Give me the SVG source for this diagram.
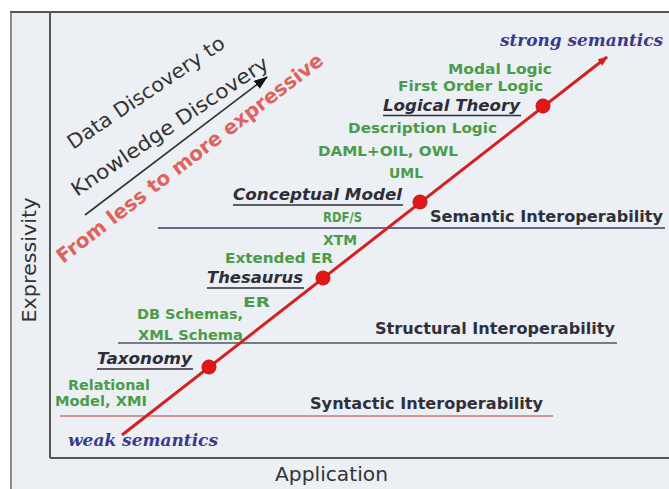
<svg xmlns="http://www.w3.org/2000/svg" width="669" height="489" viewBox="0 0 669 489">
  <style>
    .lbl { font-family: "DejaVu Sans", "Liberation Sans", sans-serif; font-weight: bold; }
    .green { fill: #4a9c4a; font-size: 14px; }
    .level { fill: #2e2e38; font-size: 15px; font-style: italic; }
    .interop { fill: #30303a; font-size: 15px; }
    .sem { font-family: "DejaVu Serif", "Liberation Serif", serif; font-weight: bold; font-style: italic; fill: #3a3a8c; font-size: 17px; }
    .axis { font-family: "DejaVu Sans", "Liberation Sans", sans-serif; fill: #333; font-size: 20px; }
    .uline { stroke: #2e2e38; stroke-width: 1.5; }
    .dot { fill: #e01818; stroke: #c01010; stroke-width: 1; }
  </style>
  <defs>
    <marker id="blackHead" markerUnits="userSpaceOnUse" markerWidth="14" markerHeight="10" refX="13" refY="5" orient="auto">
      <path d="M0,0 L14,5 L0,10 z" fill="#111"/>
    </marker>
    <marker id="redHead" markerUnits="userSpaceOnUse" markerWidth="10" markerHeight="8" refX="9" refY="4" orient="auto">
      <path d="M0,0 L10,4 L0,8 z" fill="#d42020"/>
    </marker>
  </defs>

  <!-- canvas and chart frame -->
  <rect x="0" y="0" width="669" height="489" fill="#ffffff"/>
  <rect x="10" y="12" width="659" height="477" fill="#eceff4"/>
  <line x1="10" y1="12" x2="669" y2="12" stroke="#555" stroke-width="2"/>
  <line x1="11" y1="12" x2="11" y2="489" stroke="#6a6a6a" stroke-width="1.5"/>
  <line x1="50" y1="12" x2="50" y2="458" stroke="#555" stroke-width="2"/>
  <line x1="50" y1="458" x2="669" y2="458" stroke="#555" stroke-width="2"/>

  <!-- axis titles -->
  <text class="axis" transform="translate(36,260) rotate(-90)" text-anchor="middle" textLength="125" lengthAdjust="spacingAndGlyphs">Expressivity</text>
  <text class="axis" x="275" y="481" textLength="113" lengthAdjust="spacingAndGlyphs">Application</text>

  <!-- interoperability levels -->
  <g id="levels">
    <line x1="158" y1="228" x2="665" y2="228" stroke="#3c3c66" stroke-width="1.5"/>
    <line x1="118" y1="343" x2="617" y2="343" stroke="#55555f" stroke-width="1.5"/>
    <line x1="60" y1="416" x2="553" y2="416" stroke="#c87a7a" stroke-width="1.3"/>
  </g>
  <g id="semantic-interop"><text class="lbl interop" x="430" y="222" textLength="233" lengthAdjust="spacingAndGlyphs">Semantic Interoperability</text></g>
  <g id="structural-interop"><text class="lbl interop" x="375" y="334" textLength="240" lengthAdjust="spacingAndGlyphs">Structural Interoperability</text></g>
  <g id="syntactic-interop"><text class="lbl interop" x="310" y="409" textLength="233" lengthAdjust="spacingAndGlyphs">Syntactic Interoperability</text></g>

  <!-- rotated captions -->
  <g id="discovery">
    <text class="axis" transform="translate(73,150) rotate(-34)" textLength="185" lengthAdjust="spacingAndGlyphs">Data Discovery to</text>
    <text class="axis" transform="translate(77,197) rotate(-34)" textLength="233" lengthAdjust="spacingAndGlyphs">Knowledge Discovery</text>
  </g>
  <g id="expressive">
    <text class="lbl" transform="translate(63,264) rotate(-37.5)" fill="#e0625c" font-size="20" textLength="330" lengthAdjust="spacingAndGlyphs">From less to more expressive</text>
  </g>

  <!-- green example labels -->
  <g id="examples">
    <text class="lbl green" x="448" y="74" textLength="104" lengthAdjust="spacingAndGlyphs">Modal Logic</text>
    <text class="lbl green" x="398" y="91" textLength="145" lengthAdjust="spacingAndGlyphs">First Order Logic</text>
    <text class="lbl green" x="348" y="133" textLength="149" lengthAdjust="spacingAndGlyphs">Description Logic</text>
    <text class="lbl green" x="318" y="156" textLength="140" lengthAdjust="spacingAndGlyphs">DAML+OIL, OWL</text>
    <text class="lbl green" x="389" y="178" textLength="34" lengthAdjust="spacingAndGlyphs">UML</text>
    <text class="lbl green" x="323" y="222" textLength="39" lengthAdjust="spacingAndGlyphs">RDF/S</text>
    <text class="lbl green" x="323" y="245" textLength="34" lengthAdjust="spacingAndGlyphs">XTM</text>
    <text class="lbl green" x="225" y="263" textLength="108" lengthAdjust="spacingAndGlyphs">Extended ER</text>
    <text class="lbl green" x="243" y="307" textLength="27" lengthAdjust="spacingAndGlyphs">ER</text>
    <text class="lbl green" x="137" y="319" textLength="106" lengthAdjust="spacingAndGlyphs">DB Schemas,</text>
    <text class="lbl green" x="138" y="340" textLength="105" lengthAdjust="spacingAndGlyphs">XML Schema</text>
    <text class="lbl green" x="68" y="390" textLength="82" lengthAdjust="spacingAndGlyphs">Relational</text>
    <text class="lbl green" x="55" y="406" textLength="92" lengthAdjust="spacingAndGlyphs">Model, XMI</text>
  </g>

  <!-- ontology levels -->
  <g id="logical-theory">
    <text class="lbl level" x="383" y="111" textLength="137" lengthAdjust="spacingAndGlyphs">Logical Theory</text>
    <line class="uline" x1="383" y1="115.5" x2="521" y2="115.5"/>
  </g>
  <g id="conceptual-model">
    <text class="lbl level" x="233" y="200" textLength="169" lengthAdjust="spacingAndGlyphs">Conceptual Model</text>
    <line class="uline" x1="233" y1="205" x2="403" y2="205"/>
  </g>
  <g id="thesaurus">
    <text class="lbl level" x="207" y="283" textLength="96" lengthAdjust="spacingAndGlyphs">Thesaurus</text>
    <line class="uline" x1="207" y1="288" x2="304" y2="288"/>
  </g>
  <g id="taxonomy">
    <text class="lbl level" x="97" y="364" textLength="95" lengthAdjust="spacingAndGlyphs">Taxonomy</text>
    <line class="uline" x1="97" y1="369" x2="193" y2="369"/>
  </g>

  <!-- end labels -->
  <g id="strong"><text class="sem" x="500" y="46" textLength="163" lengthAdjust="spacingAndGlyphs">strong semantics</text></g>
  <g id="weak"><text class="sem" x="68" y="446" textLength="150" lengthAdjust="spacingAndGlyphs">weak semantics</text></g>

  <!-- connectors -->
  <g id="connectors">
    <line x1="85" y1="215" x2="267" y2="77" stroke="#333" stroke-width="1.6" marker-end="url(#blackHead)"/>
    <line x1="122" y1="435" x2="607" y2="57" stroke="#d42020" stroke-width="3" marker-end="url(#redHead)"/>
    <circle class="dot" cx="209" cy="367" r="7"/>
    <circle class="dot" cx="323" cy="278" r="7"/>
    <circle class="dot" cx="420" cy="202" r="7"/>
    <circle class="dot" cx="543" cy="106" r="7"/>
  </g>
</svg>
